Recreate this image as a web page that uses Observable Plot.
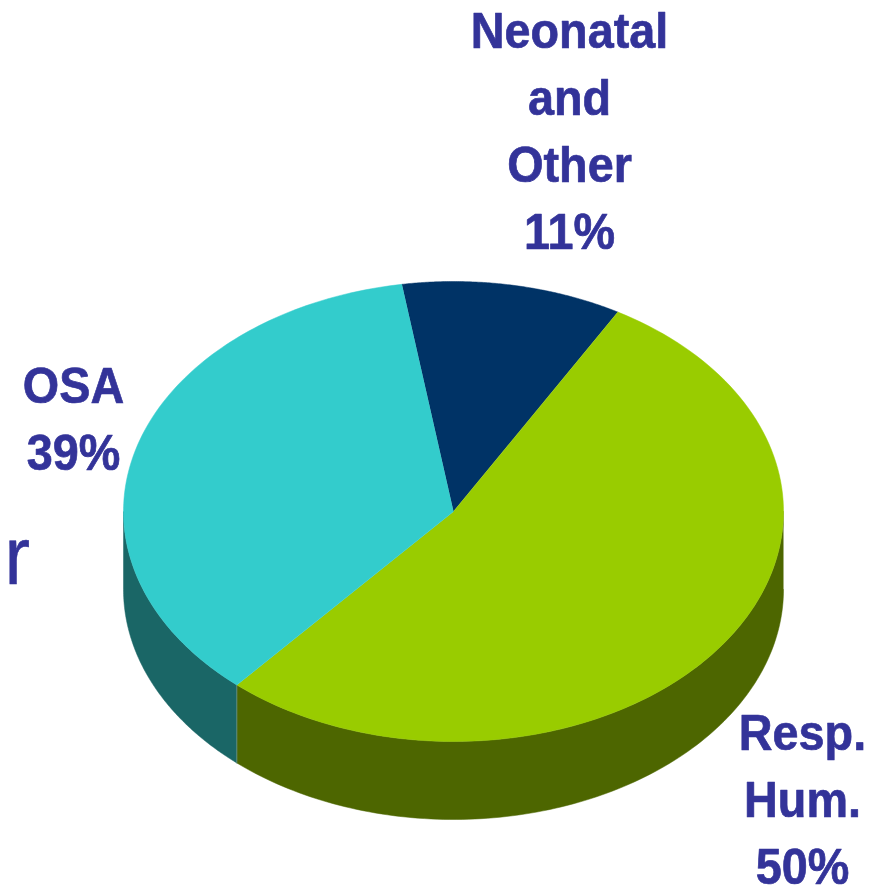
<!DOCTYPE html>
<html>
<head>
<meta charset="utf-8">
<style>
html,body{margin:0;padding:0;background:#fff}
svg{display:block}
</style>
<script src="https://cdn.jsdelivr.net/npm/d3@7"></script>
<script src="https://cdn.jsdelivr.net/npm/@observablehq/plot@0.6"></script>
</head>
<body>
<div id="chart"></div>
<script>
// Slices clockwise from the top-left edge of the navy slice.
const categories = ["Neonatal and Other", "Resp. Hum.", "OSA"];
const labelLines = ["Neonatal\nand\nOther\n11%", "Resp.\nHum.\n50%", "OSA\n39%"];
const labelledPercent = [11, 50, 39];
// Shares of the turn as actually drawn in the picture (read from the slice edges).
const drawnPercent = [10.8, 53.1, 36.1];
const topColors = ["#003366", "#99CC00", "#33CCCC"];
const wallColors = ["#001A33", "#4D6600", "#1A6666"];
const strayText = "r";

// Layout (pixels), used only to set up the scales and annotations.
const W = 882, H = 887, cx = 453, cy = 511, rx = 330, ry = 230;
const depth = 78 / ry;
const startDeg = -9.0;
const textColor = "#333399";

const xScale = {type: "linear", domain: [-cx / rx, (W - cx) / rx], range: [0, W]};
const yScale = {type: "linear", domain: [-cy / ry, (H - cy) / ry], range: [0, H]};
const px = v => (v - cx) / rx, py = v => (v - cy) / ry;

// cumulative angles from the shares
let acc = startDeg;
const slices = categories.map((name, i) => {
  const a0 = acc; acc += drawnPercent[i] * 3.6;
  return {name, a0, a1: acc, top: topColors[i], wall: wallColors[i]};
});
const rad = d => d * Math.PI / 180;
const pt = (deg, dz = 0) => ({x: Math.sin(rad(deg)), y: -Math.cos(rad(deg)) + dz});
const arc = (a0, a1, dz = 0) => d3.range(0, 121).map(k => pt(a0 + (a1 - a0) * k / 120, dz));

const wallMarks = slices.map(s => {
  const a0 = Math.max(s.a0, 90), a1 = Math.min(s.a1, 270);
  if (a1 <= a0) return null;
  const poly = [...arc(a0, a1), ...arc(a0, a1, depth).reverse()];
  return Plot.line(poly, {x: "x", y: "y", fill: s.wall, stroke: s.wall, strokeWidth: 0.5});
}).filter(Boolean);

const topMarks = slices.map(s =>
  Plot.line([{x: 0, y: 0}, ...arc(s.a0, s.a1)], {x: "x", y: "y", fill: s.top, stroke: s.top, strokeWidth: 0.5})
);

// thin seam where the two side walls meet
const seamDeg = slices[2].a0;
const seam = Plot.line([pt(seamDeg), pt(seamDeg, depth)], {x: "x", y: "y", stroke: "#5f8a78", strokeWidth: 1});

const labelRows = [
  {text: labelLines[0], x: px(569), y: py(248)},
  {text: labelLines[1], x: px(802), y: py(883)},
  {text: labelLines[2], x: px(73), y: py(469)}
];

const chart = Plot.plot({
  width: W, height: H,
  margin: 0,
  x: {...xScale, axis: null},
  y: {...yScale, axis: null},
  style: {background: "#fff"},
  marks: [
    ...wallMarks,
    seam,
    ...topMarks,
    Plot.text(labelRows, {
      x: "x", y: "y", text: "text",
      lineAnchor: "bottom", lineHeight: 1.34,
      fontFamily: "Liberation Sans", fontWeight: "bold", fontSize: 50,
      fill: textColor, stroke: textColor, strokeWidth: 0.7, textAnchor: "middle"
    }),
    Plot.text([{text: strayText, x: px(4), y: py(583)}], {
      x: "x", y: "y", text: "text",
      lineAnchor: "bottom", textAnchor: "start",
      fontFamily: "Liberation Sans", fontSize: 82, fill: textColor, stroke: textColor, strokeWidth: 0.5
    })
  ]
});
chart.querySelectorAll("text").forEach(t => {
  const tr = t.getAttribute("transform") || "";
  t.setAttribute("transform", tr + " scale(0.935,1)");
});
document.getElementById("chart").appendChild(chart);
</script>
</body>
</html>
